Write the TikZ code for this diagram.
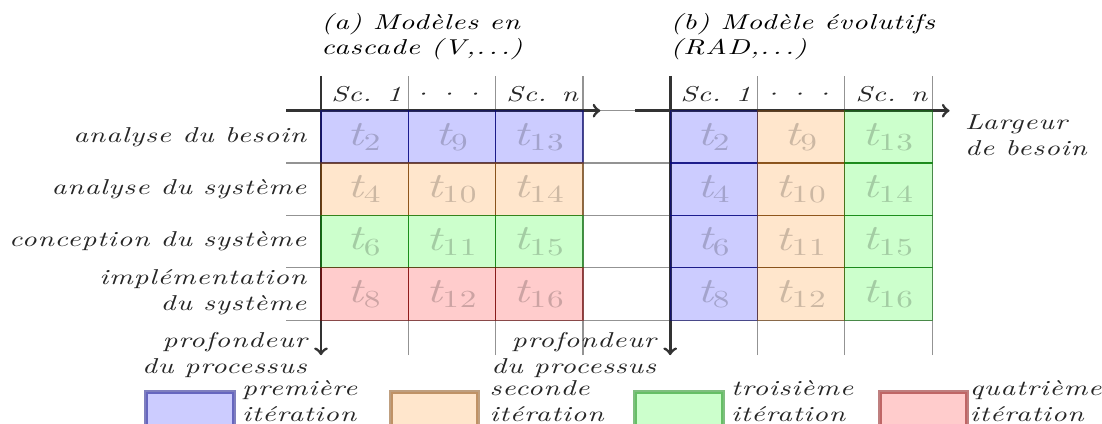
\documentclass[tikz,border=0pt]{standalone}
\usepackage{fontspec}
\newfontfamily\lsf{lmroman10-regular.otf}[ItalicFont=lmroman10-italic.otf, FakeStretch=1.35, LetterSpace=4]
\newcommand\tlab[1]{{\itshape t}\textsubscript{\upshape #1}}
\newcommand\middots{·\kern1.8pt·\kern1.8pt·}
\begin{document}
\begin{tikzpicture}[
  gridline/.style={gray!85, line width=0.6pt},
  axisline/.style={black!80, line width=1.4pt, ->},
  tcell/.style={fill=#1, fill opacity=0.2, draw=#1!50!black, draw opacity=0.5,
    line width=0.6pt, minimum width=1.5cm, minimum height=0.9cm, inner sep=0pt,
    outer sep=0pt, font=\lsf\LARGE},
  legbox/.style={fill=#1, fill opacity=0.2, draw=#1!50!black, draw opacity=0.5,
    line width=2pt, minimum width=1.5cm, minimum height=0.9cm, inner sep=0pt,
    outer sep=0pt, anchor=north west},
  txtlab/.style={font=\lsf\itshape\fontsize{10.5}{12.4}\selectfont, text=black!85},
  legtext/.style={txtlab, anchor=west, align=left, inner sep=0pt, text depth=0pt},
]
\useasboundingbox (-5.515,-5.366) rectangle (13.419,1.902);

% grids
\draw[gridline] (-0.6,-4.2) grid[xstep=1.5,ystep=0.9] (5.4,0.6);
\draw[gridline] (5.4,-4.2) grid[xstep=1.5,ystep=0.9] (10.5,0.6);

% axis end points
\coordinate (aT) at (0,0.6);
\coordinate (aB) at (0,-4.2);
\coordinate (aL) at (-0.6,0);
\coordinate (aR) at (4.8,0);
\coordinate (bT) at (6,0.6);
\coordinate (bB) at (6,-4.2);
\coordinate (bL) at (5.4,0);
\coordinate (bR) at (10.8,0);
\draw[axisline] (aT) -- (aB);
\draw[axisline] (aL) -- (aR);
\draw[axisline] (bT) -- (bB);
\draw[axisline] (bL) -- (bR);

% cells, panel (a)
\foreach \r/\c/\col/\n in {
  0/0/blue/2, 0/1/blue/9, 0/2/blue/13,
  1/0/orange/4, 1/1/orange/10, 1/2/orange/14,
  2/0/green/6, 2/1/green/11, 2/2/green/15,
  3/0/red/8, 3/1/red/12, 3/2/red/16}
  \node[tcell=\col] (a\r\c) at ({1.5*\c+0.75},{-0.9*\r-0.45}) {\tlab{\n}};

% cells, panel (b)
\foreach \r/\c/\col/\n in {
  0/0/blue/2, 0/1/orange/9, 0/2/green/13,
  1/0/blue/4, 1/1/orange/10, 1/2/green/14,
  2/0/blue/6, 2/1/orange/11, 2/2/green/15,
  3/0/blue/8, 3/1/orange/12, 3/2/green/16}
  \node[tcell=\col] (b\r\c) at ({6+1.5*\c+0.75},{-0.9*\r-0.45}) {\tlab{\n}};

% column heads
\node[txtlab, anchor=base] (ah1) at (0.78,0.155) {Sc. 1};
\node[txtlab, anchor=base] (ah2) at (2.17,0.155) {\middots};
\node[txtlab, anchor=base] (ah3) at (3.8,0.155) {Sc. n};
\node[txtlab, anchor=base] (bh1) at (6.78,0.155) {Sc. 1};
\node[txtlab, anchor=base] (bh2) at (8.19,0.155) {\middots};
\node[txtlab, anchor=base] (bh3) at (9.8,0.155) {Sc. n};

% titles
\node[txtlab, text=black, anchor=north west, align=left, inner sep=0pt] (ta) at (0,1.68)
  {(a) Modèles en\\cascade (V,.\,.\,.)};
\node[txtlab, text=black, anchor=north west, align=left, inner sep=0pt] (tb) at (6,1.68)
  {(b) Modèle évolutifs\\(RAD,.\,.\,.)};

% row labels
\node[txtlab, anchor=east] (r1) at (-0.13,-0.45) {analyse du besoin};
\node[txtlab, anchor=east] (r2) at (-0.13,-1.35) {analyse du système};
\node[txtlab, anchor=east] (r3) at (-0.13,-2.25) {conception du système};
\node[txtlab, anchor=east, align=right] (r4) at (-0.13,-3.12) {implémentation\\du système};

% axis labels
\node[txtlab, anchor=east, align=right, xshift=-0.12cm] (pa) at (aB) {profondeur\\du processus};
\node[txtlab, anchor=east, align=right, xshift=-0.12cm] (pb) at (bB) {profondeur\\du processus};
\node[txtlab, anchor=north west, align=left, inner sep=0pt] (lw) at (11.06,-0.07) {Largeur\\de besoin};

% legend
\node[legbox=blue] (l1) at (-3.0,-4.83) {};
\node[legbox=orange] (l2) at (1.2,-4.83) {};
\node[legbox=green] (l3) at (5.4,-4.83) {};
\node[legbox=red] (l4) at (9.6,-4.83) {};
\node[legtext] (l1t) at (-1.36,-4.99) {première\\itération};
\node[legtext] (l2t) at (2.89,-4.99) {seconde\\itération};
\node[legtext] (l3t) at (7.04,-4.99) {troisième\\itération};
\node[legtext] (l4t) at (11.14,-4.99) {quatrième\\itération};
\end{tikzpicture}
\end{document}
